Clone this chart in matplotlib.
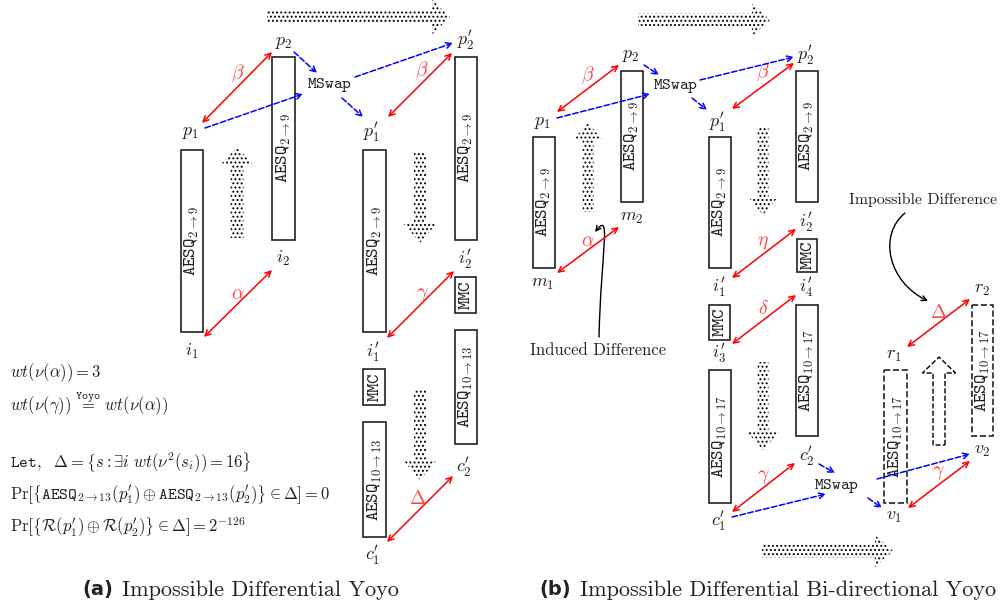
import numpy as np
import matplotlib
matplotlib.use("Agg")
import matplotlib.pyplot as plt
from matplotlib.patches import Rectangle, Polygon, FancyArrowPatch
from matplotlib.path import Path

plt.rcParams["mathtext.fontset"] = "cm"
plt.rcParams["hatch.linewidth"] = 0.9

A29 = r"$\mathtt{AESQ}_{2\to 9}$"
A1013 = r"$\mathtt{AESQ}_{10\to 13}$"
A1017 = r"$\mathtt{AESQ}_{10\to 17}$"
MMC = r"$\mathtt{MMC}$"

# boxes: (x0, y0, x1, y1, label, dashed)
boxes = [
    (181, 150, 203, 332, A29, False),
    (272, 57, 295, 240, A29, False),
    (363, 150, 386, 332, A29, False),
    (455, 57, 477, 240, A29, False),
    (455, 277, 476, 313, MMC, False),
    (455, 330, 477, 444, A1013, False),
    (363, 369, 385, 405, MMC, False),
    (363, 422, 386, 537, A1013, False),
    (533, 137, 555, 268, A29, False),
    (621, 71, 643, 202, A29, False),
    (709, 137, 731, 268, A29, False),
    (796, 71, 818, 202, A29, False),
    (797, 239, 817, 272, MMC, False),
    (709, 305, 730, 340, MMC, False),
    (796, 305, 818, 436, A1017, False),
    (709, 370, 731, 503, A1017, False),
    (884, 370, 907, 503, A1017, True),
    (972, 305, 993, 436, A1017, True),
]

# node labels
nodes = [
    (r"p_1", 191, 132), (r"p_2", 284, 42), (r"i_1", 192, 351), (r"i_2", 283, 258),
    (r"p^{\prime}_1", 372, 132), (r"p^{\prime}_2", 466, 40), (r"i^{\prime}_1", 373, 352),
    (r"i^{\prime}_2", 465, 259), (r"c^{\prime}_2", 464, 467), (r"c^{\prime}_1", 373, 555),
    (r"p_1", 543, 122), (r"p_2", 631, 55), (r"m_1", 543, 283), (r"m_2", 632, 217),
    (r"p^{\prime}_1", 718, 122), (r"p^{\prime}_2", 806, 55), (r"i^{\prime}_2", 806, 222),
    (r"i^{\prime}_1", 719, 287), (r"i^{\prime}_4", 806, 287), (r"i^{\prime}_3", 719, 353),
    (r"c^{\prime}_2", 807, 456), (r"c^{\prime}_1", 719, 521), (r"v_1", 894, 516),
    (r"v_2", 982, 450), (r"r_1", 894, 355), (r"r_2", 982, 289),
]

# red difference arrows: (x0, y0, x1, y1, label, lx, ly)
diffs = [
    (202, 123, 272, 52, r"\beta", 238, 73),
    (204, 337, 272, 270, r"\alpha", 238, 294),
    (388, 117, 452, 53, r"\beta", 422, 70),
    (387, 338, 454, 271, r"\gamma", 422, 295),
    (387, 542, 453, 476, r"\Delta", 418, 498),
    (557, 112, 619, 65, r"\beta", 588, 75),
    (557, 273, 619, 227, r"\alpha", 588, 241),
    (732, 109, 794, 63, r"\beta", 763, 72),
    (732, 278, 796, 229, r"\eta", 763, 242),
    (732, 344, 796, 295, r"\delta", 763, 308),
    (732, 512, 795, 463, r"\gamma", 763, 477),
    (908, 508, 970, 461, r"\gamma", 938, 473),
    (907, 347, 970, 299, r"\Delta", 939, 313),
]

# blue MSwap arrows: (x0, y0, x1, y1)
swaps = [
    (205, 128, 303, 94), (294, 52, 317, 73), (355, 77, 453, 43), (342, 98, 363, 117),
    (557, 118, 650, 94), (644, 65, 659, 75), (700, 80, 794, 57), (692, 98, 707, 110),
    (732, 517, 826, 494), (819, 464, 835, 473), (877, 479, 970, 454), (868, 498, 882, 508),
]
mswap_pos = [(330, 85), (676, 86), (837, 486)]

# dotted block arrows: (x0, y0, x1, y1, body, head, head_len)
flows = [
    (267, 17, 450, 17, 14, 35, 18),
    (237, 238, 237, 147, 13, 33, 18),
    (420, 152, 420, 243, 12, 34, 20),
    (420, 390, 420, 480, 12, 34, 20),
    (638, 20, 770, 20, 13, 32, 18),
    (588, 212, 588, 123, 11, 30, 17),
    (763, 128, 763, 215, 11, 30, 18),
    (763, 362, 763, 450, 11, 32, 18),
    (762, 551, 893, 551, 13, 32, 18),
]

formulas = [
    (r"$wt(\nu(\alpha)) = 3$", 373),
    (r"$wt(\nu(\gamma))\ \overset{\mathtt{Yoyo}}{=}\ wt(\nu(\alpha))$", 404),
    (r"$\mathtt{Let,}\ \ \Delta = \left\{s : \exists i\ wt(\nu^2(s_i)) = 16\right\}$", 462),
    (r"$\mathrm{Pr}\left[\left\{\mathtt{AESQ}_{2\to 13}(p^{\prime}_1) \oplus \mathtt{AESQ}_{2\to 13}(p^{\prime}_2)\right\} \in \Delta\right] = 0$", 495),
    (r"$\mathrm{Pr}\left[\left\{\mathcal{R}(p^{\prime}_1) \oplus \mathcal{R}(p^{\prime}_2)\right\} \in \Delta\right] = 2^{-126}$", 527),
]


def arrow_shape(x0, y0, x1, y1, body, head, hlen):
    d = np.array([x1 - x0, y1 - y0], float)
    d /= np.hypot(*d)
    n = np.array([-d[1], d[0]])
    p0, p1 = np.array([x0, y0]), np.array([x1, y1])
    neck = p1 - d * hlen
    return [p0 + n * body / 2, neck + n * body / 2, neck + n * head / 2, p1,
            neck - n * head / 2, neck - n * body / 2, p0 - n * body / 2]


fig = plt.figure(figsize=(10.01, 6.07), dpi=100)
ax = fig.add_axes([0, 0, 1, 1])
ax.set_xlim(0, 1001)
ax.set_ylim(607, 0)
ax.axis("off")

for x0, y0, x1, y1, body, head, hlen in flows:
    ax.add_patch(Polygon(arrow_shape(x0, y0, x1, y1, body, head, hlen), closed=True,
                         facecolor="none", edgecolor="black", lw=0, hatch="...."))

# hollow dashed arrow
ax.add_patch(Polygon(arrow_shape(939, 445, 939, 357, 12, 33, 16), closed=True,
                     facecolor="none", edgecolor="black", lw=1, ls="--"))

for x0, y0, x1, y1, lab, dashed in boxes:
    ax.add_patch(Rectangle((x0, y0), x1 - x0, y1 - y0, facecolor="white",
                           edgecolor="#222222", lw=1.2, ls="--" if dashed else "-"))
    ax.text((x0 + x1) / 2, (y0 + y1) / 2, lab, rotation=90,
            ha="center", va="center", fontsize=13, color="#222222")

for lab, x, y in nodes:
    ax.text(x, y, "$" + lab + "$", ha="center", va="center", fontsize=13, color="#222222")

for x0, y0, x1, y1, lab, lx, ly in diffs:
    ax.annotate("", xy=(x1, y1), xytext=(x0, y0),
                arrowprops=dict(arrowstyle="<->", color="red", lw=1.1,
                                shrinkA=0, shrinkB=0, mutation_scale=10))
    ax.text(lx, ly, "$" + lab + "$", ha="center", va="center", fontsize=14, color="#ff4444")

for x0, y0, x1, y1 in swaps:
    ax.annotate("", xy=(x1, y1), xytext=(x0, y0),
                arrowprops=dict(arrowstyle="->", color="blue", lw=1.1, ls="--",
                                shrinkA=0, shrinkB=0, mutation_scale=10))

for x, y in mswap_pos:
    ax.text(x, y, r"$\mathtt{MSwap}$", ha="center", va="center", fontsize=12, color="#222222")

for txt, y in formulas:
    ax.text(10, y, txt, ha="left", va="center", fontsize=12, color="#222222")

# annotations
ax.text(598, 350, "Induced Difference", family="cmr10", ha="center", va="center",
        fontsize=12, color="#222222")
p = Path([(599, 337), (601, 250), (612, 210), (595, 232)],
         [Path.MOVETO, Path.CURVE4, Path.CURVE4, Path.CURVE4])
ax.add_patch(FancyArrowPatch(path=p, arrowstyle="->", color="black", lw=1, mutation_scale=9))

ax.text(923, 200, "Impossible Difference", family="cmr10", ha="center", va="center",
        fontsize=11.5, color="#222222")
p = Path([(905, 213), (878, 235), (888, 282), (928, 301)],
         [Path.MOVETO, Path.CURVE4, Path.CURVE4, Path.CURVE4])
ax.add_patch(FancyArrowPatch(path=p, arrowstyle="->", color="black", lw=1, mutation_scale=9))

# captions
ax.text(113, 590, "(a)", fontweight="bold", ha="right", va="center", fontsize=14, color="#222222")
ax.text(122, 590, "Impossible Differential Yoyo", family="cmr10", ha="left", va="center",
        fontsize=16, color="#222222")
ax.text(571, 590, "(b)", fontweight="bold", ha="right", va="center", fontsize=14, color="#222222")
ax.text(580, 590, "Impossible Differential Bi-directional Yoyo", family="cmr10", ha="left",
        va="center", fontsize=16, color="#222222")

fig.savefig("out.png", dpi=100)
